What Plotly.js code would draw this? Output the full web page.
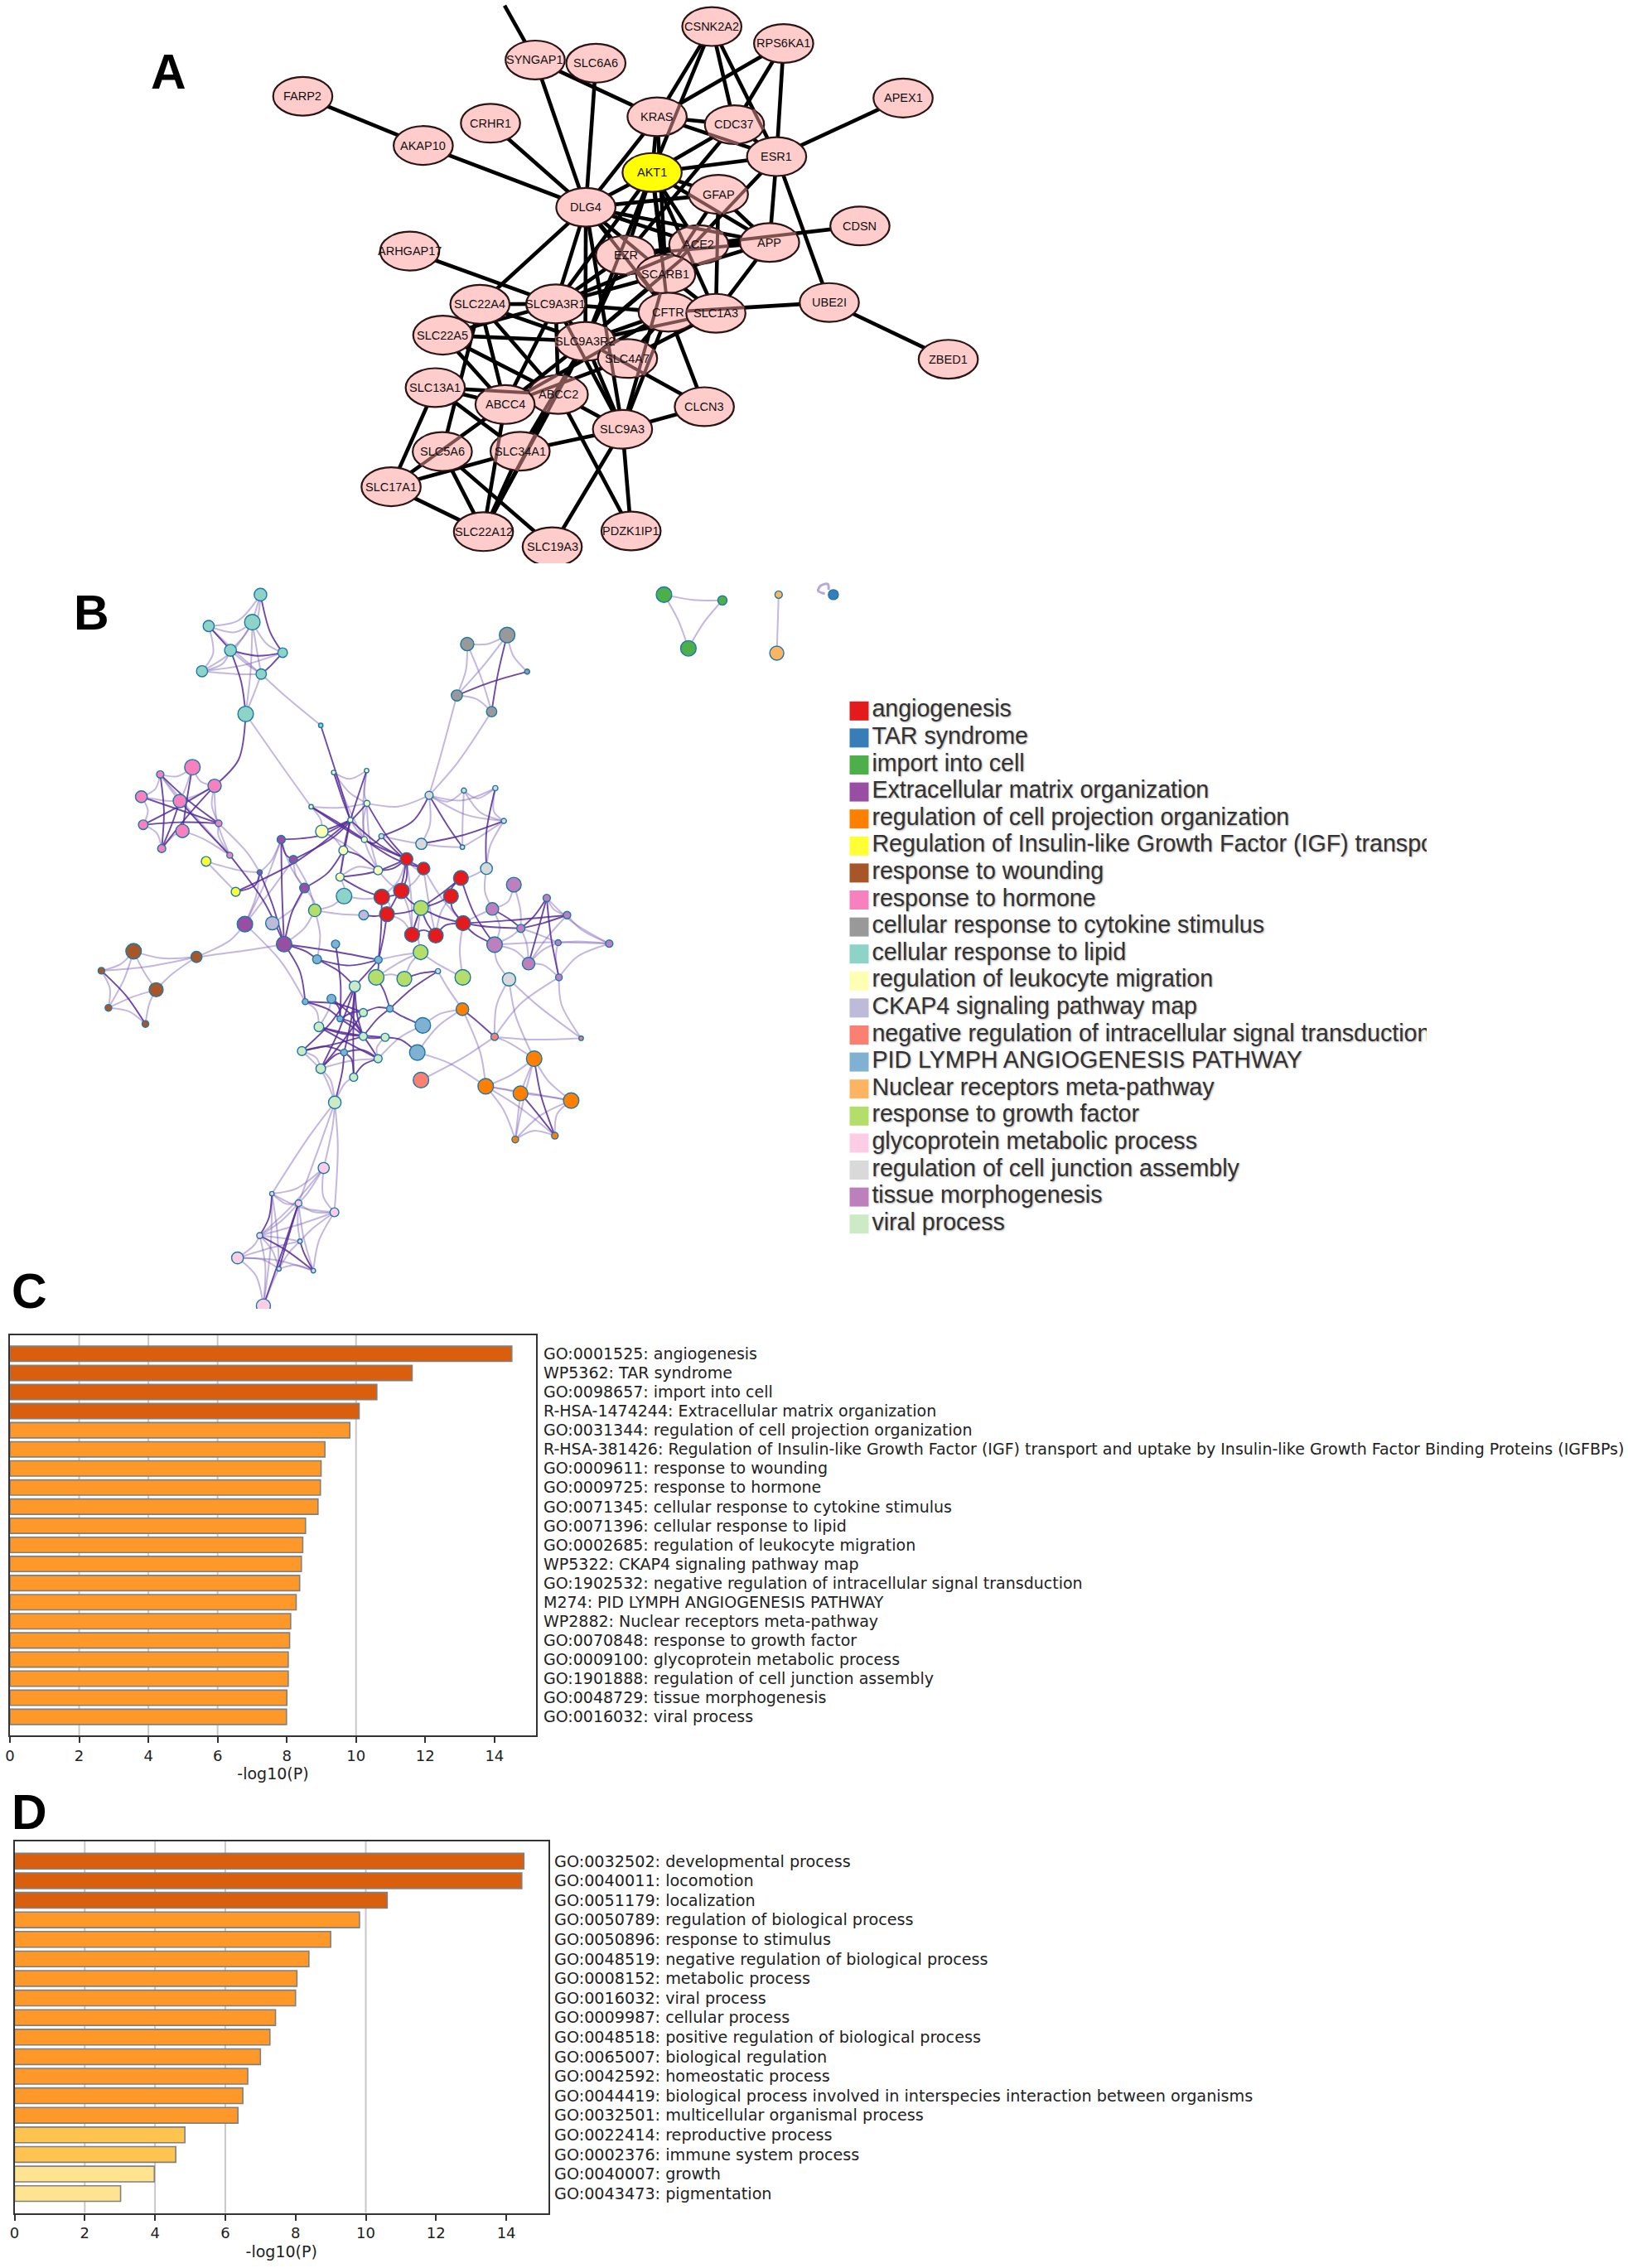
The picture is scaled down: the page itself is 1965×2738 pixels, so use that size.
<!DOCTYPE html>
<html><head><meta charset="utf-8">
<script src="https://cdn.plot.ly/plotly-3.0.1.min.js"></script>
<style>html,body{margin:0;padding:0;background:#fff}#g{width:1965px;height:2738px}</style>
</head><body><div id="g"></div>
<script>
// ---------- Panel C data
const cLabels = ["GO:0001525: angiogenesis","WP5362: TAR syndrome","GO:0098657: import into cell","R-HSA-1474244: Extracellular matrix organization","GO:0031344: regulation of cell projection organization","R-HSA-381426: Regulation of Insulin-like Growth Factor (IGF) transport and uptake by Insulin-like Growth Factor Binding Proteins (IGFBPs)","GO:0009611: response to wounding","GO:0009725: response to hormone","GO:0071345: cellular response to cytokine stimulus","GO:0071396: cellular response to lipid","GO:0002685: regulation of leukocyte migration","WP5322: CKAP4 signaling pathway map","GO:1902532: negative regulation of intracellular signal transduction","M274: PID LYMPH ANGIOGENESIS PATHWAY","WP2882: Nuclear receptors meta-pathway","GO:0070848: response to growth factor","GO:0009100: glycoprotein metabolic process","GO:1901888: regulation of cell junction assembly","GO:0048729: tissue morphogenesis","GO:0016032: viral process"];
const cValues = [14.50,11.62,10.60,10.09,9.82,9.10,8.99,8.97,8.90,8.54,8.46,8.42,8.37,8.27,8.11,8.08,8.04,8.04,8.00,7.99];
const cColors = ["#d95f0e","#d95f0e","#d95f0e","#d95f0e","#fe9929","#fe9929","#fe9929","#fe9929","#fe9929","#fe9929","#fe9929","#fe9929","#fe9929","#fe9929","#fe9929","#fe9929","#fe9929","#fe9929","#fe9929","#fe9929"];
// ---------- Panel D data
const dLabels = ["GO:0032502: developmental process","GO:0040011: locomotion","GO:0051179: localization","GO:0050789: regulation of biological process","GO:0050896: response to stimulus","GO:0048519: negative regulation of biological process","GO:0008152: metabolic process","GO:0016032: viral process","GO:0009987: cellular process","GO:0048518: positive regulation of biological process","GO:0065007: biological regulation","GO:0042592: homeostatic process","GO:0044419: biological process involved in interspecies interaction between organisms","GO:0032501: multicellular organismal process","GO:0022414: reproductive process","GO:0002376: immune system process","GO:0040007: growth","GO:0043473: pigmentation"];
const dValues = [14.50,14.44,10.61,9.82,9.00,8.38,8.04,8.00,7.43,7.27,7.00,6.64,6.50,6.36,4.85,4.59,3.98,3.02];
const dColors = ["#d95f0e","#d95f0e","#d95f0e","#fe9929","#fe9929","#fe9929","#fe9929","#fe9929","#fe9929","#fe9929","#fe9929","#fe9929","#fe9929","#fe9929","#fec44f","#fec44f","#fee391","#fee391"];
const barTicks = [0,2,4,6,8,10,12,14];
const gridValues = [2,4,6,10];
// ---------- Legend of panel B
const legendNames = ["angiogenesis","TAR syndrome","import into cell","Extracellular matrix organization","regulation of cell projection organization","Regulation of Insulin-like Growth Factor (IGF) transpo","response to wounding","response to hormone","cellular response to cytokine stimulus","cellular response to lipid","regulation of leukocyte migration","CKAP4 signaling pathway map","negative regulation of intracellular signal transduction","PID LYMPH ANGIOGENESIS PATHWAY","Nuclear receptors meta-pathway","response to growth factor","glycoprotein metabolic process","regulation of cell junction assembly","tissue morphogenesis","viral process"];
const legendColors = ["#e41a1c","#377eb8","#4daf4a","#984ea3","#ff7f00","#ffff33","#a65628","#f781bf","#999999","#8dd3c7","#ffffb3","#bebada","#fb8072","#80b1d3","#fdb462","#b3de69","#fccde5","#d9d9d9","#bc80bd","#ccebc5"];
// ---------- Panel A network: name, layout x, layout y
const aNodes = [["CSNK2A2",923,74],["RPS6KA1",1066,121],["SYNGAP1",571,167],["SLC6A6",692,176],["FARP2",108,268],["APEX1",1304,273],["CRHR1",482,343],["KRAS",814,325],["CDC37",968,347],["AKAP10",348,405],["ESR1",1052,436],["AKT1",804,480],["GFAP",936,541],["DLG4",672,577],["CDSN",1218,629],["ARHGAP17",321,699],["ACE2",897,681],["APP",1038,675],["EZR",751,710],["SCARB1",831,763],["SLC22A4",461,847],["SLC9A3R1",612,846],["CFTR",836,869],["SLC1A3",931,872],["UBE2I",1157,842],["SLC22A5",387,933],["SLC9A3R2",671,950],["SLC4A7",755,998],["ZBED1",1394,1000],["SLC13A1",372,1079],["ABCC2",617,1098],["ABCC4",511,1126],["CLCN3",908,1132],["SLC9A3",745,1195],["SLC5A6",386,1257],["SLC34A1",541,1256],["SLC17A1",284,1355],["SLC22A12",468,1480],["PDZK1IP1",762,1478],["SLC19A3",605,1522]];
const aOffPage = [["TOP",510,15]];
const aHighlight = "AKT1";
const aThrough = ["KRAS","CDC37","GFAP","ACE2","EZR","SCARB1","APP","CFTR","SLC1A3","SLC9A3R2","SLC4A7","ABCC2","ABCC4","SLC34A1","SLC5A6"];
const aEdges = "SYNGAP1-TOP SYNGAP1-KRAS SYNGAP1-DLG4 SLC6A6-DLG4 FARP2-AKAP10 AKAP10-DLG4 CRHR1-DLG4 KRAS-CSNK2A2 CSNK2A2-CDC37 CSNK2A2-ESR1 CSNK2A2-AKT1 RPS6KA1-KRAS RPS6KA1-ESR1 RPS6KA1-CDC37 APEX1-ESR1 KRAS-CDC37 KRAS-ESR1 KRAS-AKT1 KRAS-DLG4 KRAS-SCARB1 CDC37-ESR1 CDC37-AKT1 CDC37-EZR ESR1-AKT1 ESR1-SCARB1 ESR1-APP ESR1-UBE2I AKT1-DLG4 AKT1-GFAP AKT1-APP AKT1-ACE2 AKT1-EZR AKT1-SCARB1 AKT1-CFTR AKT1-SLC9A3R1 AKT1-SLC1A3 AKT1-SLC9A3R2 GFAP-DLG4 GFAP-APP GFAP-SCARB1 GFAP-SLC1A3 DLG4-APP DLG4-ACE2 DLG4-EZR DLG4-SCARB1 DLG4-SLC22A4 DLG4-SLC9A3R1 DLG4-CFTR DLG4-SLC9A3R2 DLG4-SLC9A3 ACE2-CDSN APP-ACE2 APP-EZR APP-SCARB1 APP-SLC1A3 ACE2-EZR ACE2-SCARB1 ACE2-SLC9A3R1 ACE2-SLC9A3R2 EZR-SCARB1 EZR-CFTR EZR-SLC9A3R1 EZR-SLC9A3R2 SCARB1-CFTR SCARB1-SLC1A3 SCARB1-SLC9A3R1 SCARB1-SLC9A3R2 SCARB1-SLC9A3 CFTR-UBE2I CFTR-SLC9A3R1 CFTR-SLC9A3R2 CFTR-SLC4A7 CFTR-CLCN3 CFTR-SLC9A3 CFTR-ABCC4 SLC1A3-SLC9A3R2 SLC1A3-SLC4A7 UBE2I-ZBED1 ARHGAP17-SLC9A3R1 SLC22A4-SLC9A3R1 SLC22A4-SLC9A3R2 SLC22A4-ABCC4 SLC22A4-ABCC2 SLC22A4-SLC5A6 SLC9A3R1-SLC22A5 SLC9A3R1-SLC9A3R2 SLC9A3R1-ABCC2 SLC9A3R1-ABCC4 SLC9A3R1-SLC9A3 SLC22A5-SLC9A3R2 SLC22A5-ABCC4 SLC22A5-ABCC2 SLC9A3R2-SLC4A7 SLC9A3R2-ABCC2 SLC9A3R2-ABCC4 SLC9A3R2-SLC9A3 SLC9A3R2-SLC34A1 SLC9A3R2-SLC22A12 SLC9A3R2-CLCN3 SLC4A7-ABCC4 SLC13A1-ABCC4 SLC13A1-ABCC2 SLC13A1-SLC34A1 SLC13A1-SLC17A1 ABCC2-ABCC4 ABCC2-SLC9A3 ABCC2-SLC34A1 ABCC2-PDZK1IP1 ABCC2-SLC22A12 ABCC4-SLC17A1 ABCC4-SLC22A12 SLC9A3-CLCN3 SLC9A3-SLC34A1 SLC9A3-PDZK1IP1 SLC9A3-SLC19A3 SLC5A6-SLC22A12 SLC5A6-SLC19A3 SLC34A1-SLC17A1 SLC34A1-SLC22A12 SLC17A1-SLC22A12".split(" ");
// ---------- Panel B network: id, layout x, layout y, layout diameter
const nodesAngiogenesis = [["R0",920,622,34],["R1",966,642,34],["R2",1067,662,40],["R3",853,702,42],["R4",906,689,42],["R5",1040,700,40],["R6",867,738,40],["R7",1073,757,40],["R8",935,781,40],["R9",999,783,40]];
const nodesTar = [["TA",2074,66,27]];
const nodesImport = [["IM0",1616,66,42],["IM1",1774,78,25],["IM2",1682,179,42]];
const nodesEcm = [["P0",581,581,22],["P1",614,623,22],["P2",523,650,14],["P3",644,683,26],["P4",483,759,42],["P5",589,801,42]];
const nodesProjection = [["O0",1071,938,34],["O1",1265,1042,42],["O2",1134,1100,42],["O3",1228,1115,40],["O4",1365,1130,42],["O5",1214,1212,18],["O6",1321,1204,18]];
const nodesIgf = [["Y0",378,627,26],["Y1",458,691,24]];
const nodesWounding = [["W0",182,816,42],["W1",352,828,30],["W2",95,857,18],["W3",243,897,38],["W4",114,935,18],["W5",214,969,18]];
const nodesHormone = [["H0",341,429,42],["H1",254,444,20],["H2",401,468,36],["H3",203,491,32],["H4",307,500,36],["H5",208,550,26],["H6",314,563,36],["H7",258,600,22],["H8",412,547,18],["H9",442,614,16]];
const nodesCytokine = [["G0",1084,170,36],["G1",1192,151,42],["G2",1246,228,14],["G3",1056,278,30],["G4",1150,312,28]];
const nodesLipid = [["L0",525,66,34],["L1",385,132,30],["L2",503,124,42],["L3",444,183,32],["L4",585,188,26],["L5",367,227,30],["L6",527,233,28],["L7",485,317,42],["L8",751,700,42],["L9",688,341,12]];
const nodesLeukocyte = [["U0",723,440,12],["U1",812,436,12],["U2",662,512,12],["U3",813,505,16],["U4",768,540,14],["U5",691,564,34],["U6",806,581,16],["U7",749,604,24],["U8",843,646,24],["U9",740,660,22]];
const nodesCkap4 = [["K0",557,757,36],["K1",804,740,26]];
const nodesNegative = [["S0",959,1087,42],["S1",1158,996,20],["S2",1392,999,12]];
const nodesPid = [["B0",728,801,22],["B1",678,833,24],["B2",844,834,20],["B3",717,916,24],["B4",646,922,16],["B5",740,958,16],["B6",875,937,18],["B7",964,972,42],["B8",949,1029,42],["B9",751,1029,18]];
const nodesNuclear = [["NR0",1926,66,20],["NR1",1921,189,38]];
const nodesGrowth = [["F0",959,725,40],["F1",672,730,34],["F2",958,818,40],["F3",838,871,42],["F4",914,874,40],["F5",1072,871,42]];
const nodesGlyco = [["C0",696,1272,30],["C1",556,1326,12],["C2",628,1346,18],["C3",725,1365,24],["C4",523,1414,16],["C5",632,1426,12],["C6",463,1461,32],["C7",575,1484,12],["C8",668,1488,12],["C9",533,1562,38]];
const nodesJunction = [["J0",981,488,22],["J1",1075,478,14],["J2",1160,473,14],["J3",1183,542,14],["J4",1071,597,12],["J5",960,590,30],["J6",1136,642,32],["J7",852,574,14],["J8",1197,875,36],["J9",1005,858,14]];
const nodesTissue = [["T0",1210,676,40],["T1",1152,727,34],["T2",1299,704,20],["T3",1354,740,20],["T4",1229,768,22],["T5",1330,798,16],["T6",1158,802,42],["T7",1468,800,20],["T8",1250,842,34],["T9",1332,871,18]];
const nodesViral = [["V0",780,890,30],["V1",803,945,22],["V2",683,975,26],["V3",803,995,22],["V4",862,997,22],["V5",637,1026,24],["V6",688,1063,26],["V7",843,1042,22],["V8",777,1081,22],["V9",726,1134,34]];
const clusters = [nodesAngiogenesis,nodesTar,nodesImport,nodesEcm,nodesProjection,nodesIgf,nodesWounding,nodesHormone,nodesCytokine,nodesLipid,nodesLeukocyte,nodesCkap4,nodesNegative,nodesPid,nodesNuclear,nodesGrowth,nodesGlyco,nodesJunction,nodesTissue,nodesViral];
const tarLoopX = [2051,2033,2040,2059,2061];
const tarLoopY = [64,58,47,44,56];
const bLight = "L0-L1 L0-L2 L0-L3 L1-L2 L1-L5 L1-L6 L2-L4 L2-L5 L2-L6 L3-L5 L3-L6 L4-L5 L5-L6 L6-L7 L2-L7 L7-U2 L6-L9 G0-G1 G0-G3 G0-G4 G1-G2 G3-G4 G1-G3 G3-J0 G4-J0 H0-H1 H0-H2 H1-H3 H3-H5 H5-H7 H2-H8 H7-H6 H3-H4 H8-H9 H2-H9 H6-H9 H1-H4 H1-H9 H2-H4 H8-P2 H0-H4 Y0-Y1 Y0-P2 P0-P3 P1-P3 P0-P2 P0-P4 P2-P4 P1-P4 P4-W1 P4-B4 P5-W1 P5-F1 P3-K0 P1-F1 W0-W1 W0-W2 W0-W3 W0-W4 W1-W3 W1-W2 W2-W4 W4-W5 W3-W5 W3-W4 R0-R1 R0-R3 R1-R4 R1-R9 R3-R6 R4-R8 R6-R8 R5-R9 R0-R8 R1-R7 U0-U1 U1-U3 U0-U3 U2-U3 U2-U5 U3-U6 U4-U6 U5-U8 U5-U7 U7-U9 U6-U8 U8-U9 U3-U8 U1-U6 U0-U6 L8-R3 L8-U9 U8-R4 J0-J1 J0-J2 J1-J2 J2-J3 J0-J3 J1-J3 J1-J4 J4-J3 J0-J5 J5-J4 J5-J7 J3-J6 J0-U3 J6-T1 J6-R2 J8-T6 J8-S2 J9-O0 J8-S1 J8-O1 T0-T1 T0-T4 T1-T6 T2-T3 T3-T7 T2-T7 T5-T7 T5-T9 T4-T5 T4-T8 T3-T8 T5-T8 T8-T9 T9-T7 T6-T7 T6-T8 T6-T4 T1-R7 T9-S1 T9-S2 F0-F2 F2-F4 F2-F3 F3-F4 F2-F5 F0-R8 F1-K1 F1-B1 F1-P3 F1-L8 F2-B2 F5-R7 V5-V6 V6-V7 V7-V4 V8-V9 V5-V9 V6-V9 B7-O0 B8-O0 V7-B7 B4-V2 B3-V2 O0-O2 S1-O1 O1-O2 O1-O3 O2-O3 O2-O4 O3-O4 O1-O4 O1-O5 O2-O5 O3-O5 O4-O5 O4-O6 O5-O6 O2-O6 S0-S1 S1-S2 B8-O2 V9-C0 V9-C1 V9-C2 V9-C3 C0-C1 C0-C2 C0-C3 C0-C4 C1-C2 C1-C3 C1-C7 C2-C3 C2-C4 C2-C5 C2-C8 C3-C4 C3-C5 C4-C5 C4-C6 C4-C7 C5-C6 C5-C7 C6-C7 C6-C8 C7-C8 C1-C9 C4-C9 C6-C9 C7-C9 C3-C8 IM0-IM1 IM0-IM2 IM1-IM2 NR0-NR1".split(" ");
const bDark = "L1-L3 L3-L4 L0-L4 L3-L7 L4-L6 L7-H2 L9-U4 H0-H6 H1-H7 H1-H8 H2-H5 H2-H7 H3-H8 H5-H8 H7-H4 H4-H9 H9-P5 Y1-P2 Y1-U4 P0-P1 P2-P5 P0-P5 P3-P5 P3-U7 P0-U4 P1-U3 P5-B1 P5-B4 P5-B2 W2-W5 G1-G4 G2-G3 R0-R4 R0-R6 R3-R4 R4-F0 R5-F0 R6-F0 R7-F0 R7-R9 R8-R9 R8-F0 R9-F0 R2-F0 R5-R7 R2-R5 U0-U4 U1-U4 U2-U6 U2-R0 U3-R0 U4-R0 U4-U7 U4-U9 U5-U4 U7-U8 U8-R0 U9-R0 U6-R1 U9-R3 J0-J4 J2-J6 J5-J3 J7-U6 J7-R1 J7-J0 J9-F4 T1-T4 T2-T4 T3-T4 T2-T9 T2-T8 R7-T4 T6-R7 T3-R7 T6-R2 F3-B2 K1-R6 B2-R3 B2-R6 B2-V0 B2-B1 B0-B5 B1-V0 B3-V3 B3-B5 B4-B5 B4-V1 B5-V3 V0-V8 V0-B9 V0-V3 V0-V5 V1-B5 V2-V3 V2-V7 V3-V5 V1-V6 V6-V0 V4-V2 B9-V9 B9-V5 B9-V6 B9-V7 B6-V3 B6-V1 B6-B7 B6-F3 B5-V7 B6-J9 B8-V4 V3-V4 V7-V8 V8-B9 O0-S1 O1-O6 O3-O6 C1-C4 C2-C7 C4-C8 C5-C8 C2-C9".split(" ");

// ---------- page geometry (pixels on the page)
const W = 1965, H = 2738;
const dx = (a,b) => [a/W, b/W];
const dy = (top,bottom) => [1-bottom/H, 1-top/H];

const traces = [], shapes = [], annotations = [];
// bars
traces.push({type:"bar",orientation:"h",x:cValues,y:cLabels,xaxis:"x",yaxis:"y",width:0.8,marker:{color:cColors,line:{color:"#808080",width:1.6}},showlegend:false,hoverinfo:"x+y"});
traces.push({type:"bar",orientation:"h",x:dValues,y:dLabels,xaxis:"x2",yaxis:"y2",width:0.8,marker:{color:dColors,line:{color:"#808080",width:1.6}},showlegend:false,hoverinfo:"x+y"});
gridValues.forEach(v=>{
  shapes.push({type:"line",layer:"below",xref:"x",yref:"y domain",x0:v,x1:v,y0:0,y1:1,line:{color:"#c8c8c8",width:2}});
  shapes.push({type:"line",layer:"below",xref:"x2",yref:"y2 domain",x0:v,x1:v,y0:0,y1:1,line:{color:"#c8c8c8",width:2}});
});
// network A
const RX = 59, RY = 54;
const aPos = {}; aNodes.concat(aOffPage).forEach(n=>aPos[n[0]]=n);
const eX=[],eY=[];
aEdges.forEach(e=>{
  const [s,t]=e.split("-"); const a=aPos[s],b=aPos[t];
  eX.push(a[1],b[1],null); eY.push(a[2],b[2],null);
});
traces.push({type:"scatter",mode:"lines",x:eX,y:eY,xaxis:"x3",yaxis:"y3",line:{color:"#000",width:4.6},showlegend:false,hoverinfo:"skip"});
const chords = {};
aEdges.forEach(e=>{
  const [s,t]=e.split("-"); const a=aPos[s],b=aPos[t];
  aThrough.forEach(name=>{
    if(name===s||name===t) return;
    const n=aPos[name];
    const ux=(b[1]-a[1])/RX, uy=(b[2]-a[2])/RY, px=(a[1]-n[1])/RX, py=(a[2]-n[2])/RY;
    const A=ux*ux+uy*uy, B=2*(ux*px+uy*py), C=px*px+py*py-1, D=B*B-4*A*C;
    if(D<=0) return;
    const t0=(-B-Math.sqrt(D))/(2*A), t1=(-B+Math.sqrt(D))/(2*A);
    if(t0<0||t1>1) return;
    (chords[name]=chords[name]||[]).push([a[1]+t0*(b[1]-a[1]),a[2]+t0*(b[2]-a[2]),a[1]+t1*(b[1]-a[1]),a[2]+t1*(b[2]-a[2])]);
  });
});
aNodes.forEach(n=>{
  shapes.push({type:"circle",layer:"above",xref:"x3",yref:"y3",x0:n[1]-RX,x1:n[1]+RX,y0:n[2]-RY,y1:n[2]+RY,
    fillcolor:n[0]===aHighlight?"#ffff00":"#ffcccc",line:{color:"#2a1414",width:2.2}});
  (chords[n[0]]||[]).forEach(c=>shapes.push({type:"line",layer:"above",xref:"x3",yref:"y3",x0:c[0],y0:c[1],x1:c[2],y1:c[3],line:{color:"#7d5050",width:4}}));
});
aNodes.forEach(n=>{
  annotations.push({xref:"x3",yref:"y3",x:n[1],y:n[2],text:n[0],showarrow:false,font:{family:"Liberation Sans",size:14.5,color:"#111"}});
});
// network B
const bPos = {}, bCluster = {}, bCentre = [];
clusters.forEach((c,i)=>{
  bCentre[i]=[c.reduce((s,n)=>s+n[1],0)/c.length,c.reduce((s,n)=>s+n[2],0)/c.length];
  c.forEach(n=>{bPos[n[0]]=n;bCluster[n[0]]=i;});
});
const hub = [900,800];
function edgeTrace(list,color,width){
  const x=[],y=[];
  list.forEach(e=>{
    const [s,t]=e.split("-"); const a=bPos[s],b=bPos[t];
    const same=bCluster[s]===bCluster[t];
    const c=same?bCentre[bCluster[s]]:hub, k=same?0.14:0.05;
    const mx=(a[1]+b[1])/2, my=(a[2]+b[2])/2;
    x.push(a[1],mx+k*(c[0]-mx),b[1],null); y.push(a[2],my+k*(c[1]-my),b[2],null);
  });
  return {type:"scatter",mode:"lines",x,y,xaxis:"x4",yaxis:"y4",line:{color,width,shape:"spline",smoothing:0.9},showlegend:false,hoverinfo:"skip"};
}
traces.push(edgeTrace(bLight,"rgba(125,95,185,0.45)",2));
traces.push(edgeTrace(bDark,"rgba(85,42,150,0.85)",1.9));
traces.push({type:"scatter",mode:"lines",x:tarLoopX,y:tarLoopY,xaxis:"x4",yaxis:"y4",line:{color:"rgba(125,95,185,0.55)",width:3,shape:"spline"},showlegend:false,hoverinfo:"skip"});
clusters.forEach((c,i)=>{
  traces.push({type:"scatter",mode:"markers",name:legendNames[i],x:c.map(n=>n[1]),y:c.map(n=>n[2]),xaxis:"x4",yaxis:"y4",
    marker:{color:legendColors[i],opacity:1,size:c.map(n=>n[3]/2.24),line:{color:"#1b78a8",width:1.4}},showlegend:false,hoverinfo:"name"});
});
// legend
traces.push({type:"scatter",mode:"markers+text",x:legendNames.map(()=>37),y:legendNames,xaxis:"x5",yaxis:"y5",
  text:legendNames,textposition:"middle right",cliponaxis:true,textfont:{family:"Liberation Sans",size:28.6,color:"#333",shadow:"1px 1px 2px rgba(0,0,0,0.35)"},
  marker:{symbol:"square",size:23,color:legendColors,line:{width:0}},showlegend:false,hoverinfo:"skip"});

// panel letters
const letters = [["A",203,87],["B",110,740],["C",35,1559],["D",35,2188]];
letters.forEach(l=>annotations.push({xref:"paper",yref:"paper",x:l[1]/W,y:1-l[2]/H,xanchor:"center",yanchor:"middle",showarrow:false,
  text:"<b>"+l[0]+"</b>",font:{family:"Liberation Sans",size:59,color:"#000"}}));

const barX = (dom,anchor,standoff)=>({domain:dom,anchor,range:[0,15.2],tickvals:barTicks,ticks:"outside",ticklen:7,tickwidth:1.6,tickcolor:"#333",
  showline:true,linecolor:"#333",linewidth:2.4,mirror:true,showgrid:false,zeroline:false,tickfont:{family:"DejaVu Sans",size:18,color:"#222"},
  title:{text:"-log10(P)",font:{family:"DejaVu Sans",size:19,color:"#222"},standoff},fixedrange:true});
const barY = (dom,anchor,labels,range,standoff,size)=>({domain:dom,anchor,type:"category",categoryorder:"array",categoryarray:labels,side:"right",range,
  ticks:"",showline:true,linecolor:"#333",linewidth:2.4,mirror:true,showgrid:false,zeroline:false,automargin:false,ticklabelstandoff:standoff,
  tickfont:{family:"DejaVu Sans",size,color:"#222"},fixedrange:true});
const hidden = (dom,anchor,range)=>({domain:dom,anchor,range,visible:false,showgrid:false,zeroline:false,fixedrange:true});

const layout = {
  width:W,height:H,margin:{l:0,r:0,t:0,b:0,autoexpand:false},paper_bgcolor:"#fff",plot_bgcolor:"rgba(0,0,0,0)",
  showlegend:false,hovermode:"closest",bargap:0.2,
  xaxis:barX(dx(12,647),"y",0),yaxis:barY(dy(1611.5,2095),"x",cLabels,[19.97,-0.99],3,19),
  xaxis2:barX(dx(17.5,662),"y2",6),yaxis2:barY(dy(2223,2671.5),"x2",dLabels,[17.99,-1.01],1,19.2),
  xaxis3:hidden(dx(300,1250),"y3",[0,1568]),yaxis3:hidden(dy(0,680),"x3",[1568,0]),
  xaxis4:hidden(dx(80,1180),"y4",[0,2464]),yaxis4:hidden(dy(680,1580),"x4",[1568,0]),
  xaxis5:hidden(dx(1000,1722),"y5",[0,722]),
  yaxis5:Object.assign(hidden(dy(842,1494),"x5",[19.5,-0.5]),{type:"category",categoryorder:"array",categoryarray:legendNames}),
  shapes,annotations
};
Plotly.newPlot("g",traces,layout,{displayModeBar:false,responsive:false});
</script></body></html>
